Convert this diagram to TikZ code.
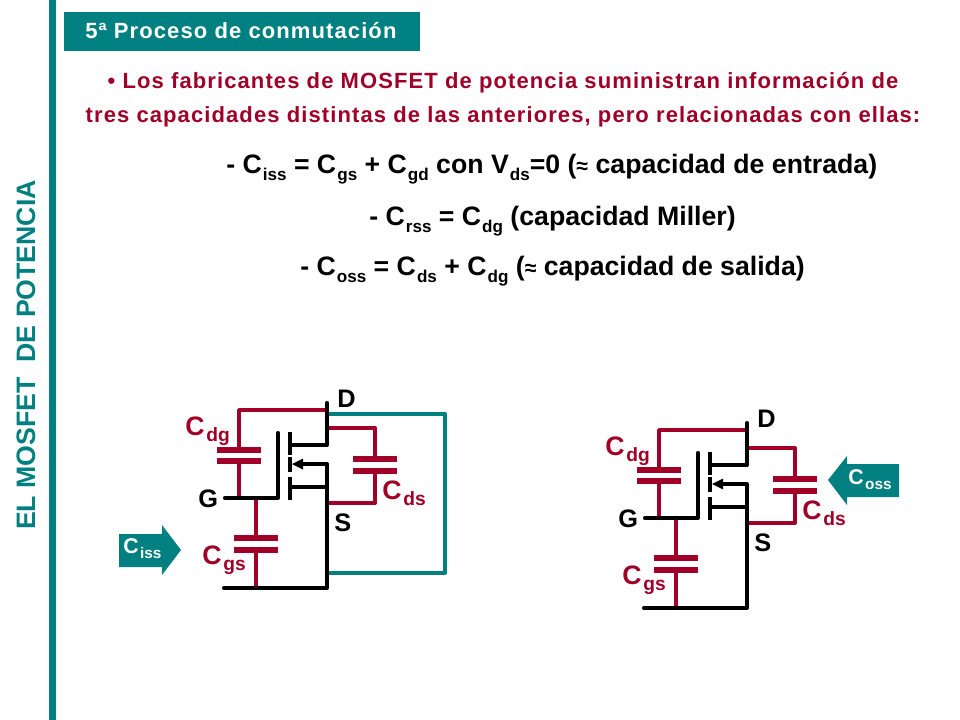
\documentclass[tikz,border=0pt]{standalone}
\usepackage{fontspec}
\usepackage{graphicx}
\setmainfont{Liberation Sans}[BoldFont={Liberation Sans Bold}]
\newfontfamily\spacedfont{Liberation Sans Bold}[LetterSpace=5]
\newfontfamily\plainbold{Liberation Sans Bold}
\definecolor{tealc}{HTML}{008080}
\definecolor{redc}{HTML}{A00028}
\newcommand{\subtx}[1]{\kern0.04em\raisebox{-0.24em}{\scalebox{0.64}{#1}}}
\newcommand{\capsub}[2]{#1\subtx{#2}}
\newcommand{\labsub}[2]{#1\kern0.07em\raisebox{-0.26em}{\scalebox{0.72}{#2}}}
\newcommand{\apx}{\raisebox{0.0em}{\scalebox{0.8}{≈}}}
\tikzset{
  blk/.style={draw=black,line width=3.1pt,line cap=round,line join=round},
  plat/.style={draw=black,line width=3.1pt},
  redw/.style={draw=redc,line width=2.9pt,line join=round},
  redp/.style={draw=redc,line width=3.9pt},
  tealw/.style={draw=tealc,line width=2.9pt,line join=round},
  lab/.style={inner sep=0pt,anchor=base west,font=\plainbold\fontsize{19}{21}\selectfont},
  rlab/.style={lab,text=redc,font=\plainbold\fontsize{20}{22}\selectfont},
  eq/.style={inner sep=0pt,anchor=base west,font=\plainbold\fontsize{20}{22}\selectfont},
  body/.style={inner sep=0pt,anchor=base,text=redc,font=\spacedfont\fontsize{16.5}{18}\selectfont},
  arrowlab/.style={inner sep=0pt,anchor=base west,text=white,font=\plainbold\fontsize{16}{18}\selectfont},
}
\newcommand{\mosfet}[3]{%
\begin{scope}[shift={(#2,#3)},name prefix=#1-]
 \coordinate (dt) at (327,403);
 \coordinate (dm) at (327,410);
 \coordinate (dc) at (327,428);
 \coordinate (db) at (327,445);
 \coordinate (dp) at (290,445);
 \coordinate (st) at (327,464);
 \coordinate (sp) at (302,464);
 \coordinate (ss) at (327,487);
 \coordinate (sq) at (290,487);
 \coordinate (sc) at (327,503);
 \coordinate (sb) at (327,588);
 \coordinate (bl) at (224,588);
 \coordinate (gl) at (225,498);
 \coordinate (gc) at (278,498);
 \coordinate (gt) at (278,433);
 \coordinate (p1a) at (290,432); \coordinate (p1b) at (290,455);
 \coordinate (p2a) at (290,457); \coordinate (p2b) at (290,472);
 \coordinate (p3a) at (290,477); \coordinate (p3b) at (290,500);
 \coordinate (atip) at (292,464); \coordinate (au) at (303,458.5); \coordinate (ad) at (303,469.5);
 % Cdg
 \coordinate (dgt) at (239,410); \coordinate (dga) at (239,450); \coordinate (dgb) at (239,461); \coordinate (dgg) at (239,498);
 \coordinate (dgal) at (217,450); \coordinate (dgar) at (261,450); \coordinate (dgbl) at (217,461); \coordinate (dgbr) at (261,461);
 % Cgs
 \coordinate (gsg) at (256,498); \coordinate (gsa) at (256,538); \coordinate (gsb) at (256,550); \coordinate (gss) at (256,588);
 \coordinate (gsal) at (234,538); \coordinate (gsar) at (278,538); \coordinate (gsbl) at (234,550); \coordinate (gsbr) at (278,550);
 % Cds
 \coordinate (dst) at (375,428); \coordinate (dsa) at (375,459); \coordinate (dsb) at (375,471); \coordinate (dsc) at (375,503);
 \coordinate (dsal) at (353,459); \coordinate (dsar) at (397,459); \coordinate (dsbl) at (353,471); \coordinate (dsbr) at (397,471);
 % red
 \draw[redw] (dm) -- (dgt) -- (dga) (dgb) -- (dgg);
 \draw[redp] (dgal) -- (dgar);
 \draw[redp] (dgbl) -- (dgbr);
 \draw[redw] (gsg) -- (gsa) (gsb) -- (gss);
 \draw[redp] (gsal) -- (gsar);
 \draw[redp] (gsbl) -- (gsbr);
 \draw[redw] (dc) -- (dst) -- (dsa) (dsb) -- (dsc) -- (sc);
 \draw[redp] (dsal) -- (dsar);
 \draw[redp] (dsbl) -- (dsbr);
 % black
 \draw[blk] (dt) -- (db) -- (dp);
 \draw[blk] (sp) -- (st) -- (sb) -- (bl);
 \draw[blk] (ss) -- (sq);
 \draw[blk] (gl) -- (gc) -- (gt);
 \draw[plat] (p1a) -- (p1b);
 \draw[plat] (p2a) -- (p2b);
 \draw[plat] (p3a) -- (p3b);
 \fill[black] (atip) -- (au) -- (ad) -- cycle;
 % labels
 \node[lab] (ld) at (337,407) {D};
 \node[lab] (lg) at (198,507) {G};
 \node[lab] (ls) at (334,531) {S};
 \node[rlab] (lcdg) at (185,435) {\labsub{C}{dg}};
 \node[rlab] (lcds) at (382,499) {\labsub{C}{ds}};
 \node[rlab] (lcgs) at (202,564) {\labsub{C}{gs}};
\end{scope}}
\begin{document}
\begin{tikzpicture}[x=0.75pt,y=-0.75pt]
\useasboundingbox (0,0) rectangle (960,720);
\fill[white] (0,0) rectangle (960,720);
\fill[tealc] (49,0) rectangle (56,720);
\node[inner sep=0pt,anchor=base,rotate=90,text=tealc,font=\plainbold\fontsize{20}{22}\selectfont] (side) at (35,355) {EL MOSFET\ \ DE POTENCIA};
\fill[tealc] (64,12) rectangle (420,51);
\node[inner sep=0pt,anchor=base west,text=white,font=\spacedfont\fontsize{16.5}{18}\selectfont] (title) at (85,39) {5ª Proceso de conmutación};
\node[body] (l1) at (503,89) {• Los fabricantes de MOSFET de potencia suministran información de};
\node[body] (l2) at (503,123) {tres capacidades distintas de las anteriores, pero relacionadas con ellas:};
\node[eq] (e1) at (226,174) {- \capsub{C}{iss} = \capsub{C}{gs} + \capsub{C}{gd} con \capsub{V}{ds}=0 (\apx\ capacidad de entrada)};
\node[eq] (e2) at (369,226) {- \capsub{C}{rss} = \capsub{C}{dg} (capacidad Miller)};
\node[eq] (e3) at (300,276) {- \capsub{C}{oss} = \capsub{C}{ds} + \capsub{C}{dg} (\apx\ capacidad de salida)};
% teal return loop
\coordinate (t1) at (327,414);
\coordinate (t2) at (445,414);
\coordinate (t3) at (445,573);
\coordinate (t4) at (327,573);
\draw[tealw] (t1) -- (t2) -- (t3) -- (t4);
\mosfet{a}{0}{0}
\mosfet{b}{420}{20}
% input / output arrows
\fill[tealc] (119,534) -- (162,534) -- (162,525) -- (181,550) -- (162,575) -- (162,567) -- (119,567) -- cycle;
\node[arrowlab] (ciss) at (123,553) {\labsub{C}{iss}};
\fill[tealc] (899,464) -- (847,464) -- (847,456) -- (828,480) -- (847,505) -- (847,497) -- (899,497) -- cycle;
\node[arrowlab] (coss) at (848,484) {\labsub{C}{oss}};
\end{tikzpicture}
\end{document}
